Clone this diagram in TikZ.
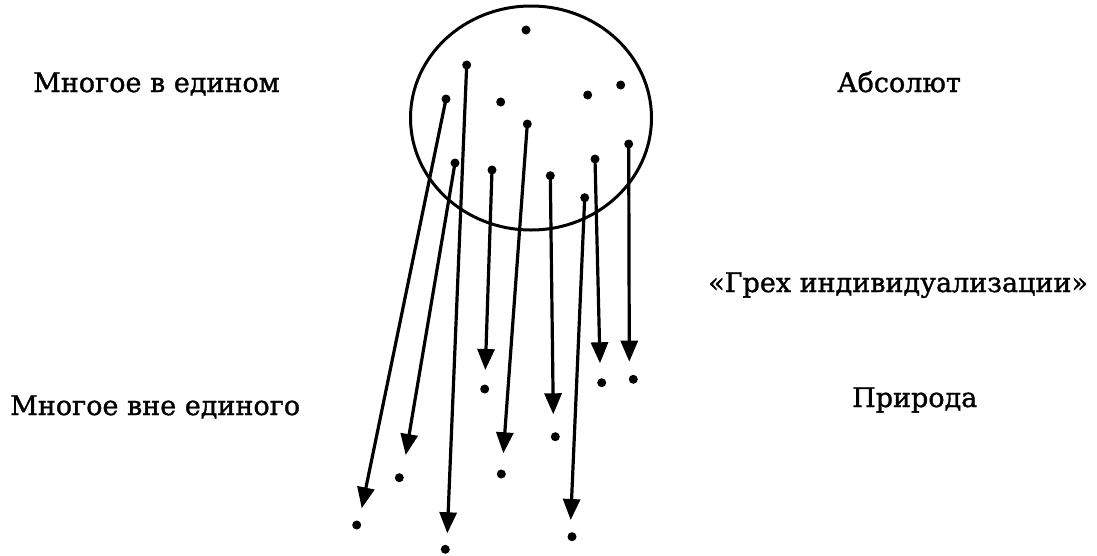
\documentclass[tikz,border=0pt]{standalone}
\usepackage{fontspec}
\setmainfont[FakeBold=1.2]{DejaVu Serif}
\usetikzlibrary{arrows.meta,shapes.geometric}
\tikzset{
  dotnode/.style={circle,fill=black,inner sep=0pt,minimum size=9pt},
  ray/.style={line width=3.2pt,-{Triangle[length=21pt,width=17pt]}},
  lbl/.style={anchor=base west,inner sep=0pt,font=\fontsize{27}{31}\selectfont},
}
\begin{document}
\begin{tikzpicture}[x=1pt,y=-1pt]
\useasboundingbox (0,0) rectangle (1097,555);
% circle (Absolute)
\node[draw,ellipse,line width=3pt,minimum width=241pt,minimum height=224pt,inner sep=0pt] (abs) at (531,118) {};
% free dots inside
\node[dotnode] (f1) at (526,30) {};
\node[dotnode] (f2) at (500.7,102) {};
\node[dotnode] (f3) at (587.7,95) {};
\node[dotnode] (f4) at (620.7,85) {};
% start dots
\node[dotnode] (s1) at (446,99) {};
\node[dotnode] (s2) at (455,163) {};
\node[dotnode] (s3) at (466.7,65) {};
\node[dotnode] (s4) at (492,170) {};
\node[dotnode] (s5) at (527.3,124) {};
\node[dotnode] (s6) at (550.3,175.7) {};
\node[dotnode] (s7) at (584.7,197.7) {};
\node[dotnode] (s8) at (595,159) {};
\node[dotnode] (s9) at (628.7,144) {};
% arrow tips
\coordinate (t1) at (361.7,508.3);
\coordinate (t2) at (405.7,455);
\coordinate (t3) at (447.3,533.3);
\coordinate (t4) at (485.3,370);
\coordinate (t5) at (503.3,453.3);
\coordinate (t6) at (553.3,414.3);
\coordinate (t7) at (570.7,520);
\coordinate (t8) at (600,363.3);
\coordinate (t9) at (629.3,361.7);
% end dots
\node[dotnode] (e1) at (356.7,525) {};
\node[dotnode] (e2) at (399.3,477.7) {};
\node[dotnode] (e3) at (445.3,549.3) {};
\node[dotnode] (e4) at (484.7,389) {};
\node[dotnode] (e5) at (501.3,474) {};
\node[dotnode] (e6) at (555.3,436.7) {};
\node[dotnode] (e7) at (572,536.7) {};
\node[dotnode] (e8) at (601.7,382.7) {};
\node[dotnode] (e9) at (633.3,379.3) {};
% arrows
\foreach \i in {1,...,9} {\draw[ray] (s\i.center) -- (t\i);}
% labels
\node[lbl] (l1) at (33,92) {Многое в едином};
\node[lbl] (l2) at (837,92) {Абсолют};
\node[lbl] (l3) at (10,415) {Многое вне единого};
\node[lbl] (l4) at (708,292) {«Грех индивидуализации»};
\node[lbl] (l5) at (852,407) {Природа};
\end{tikzpicture}
\end{document}
